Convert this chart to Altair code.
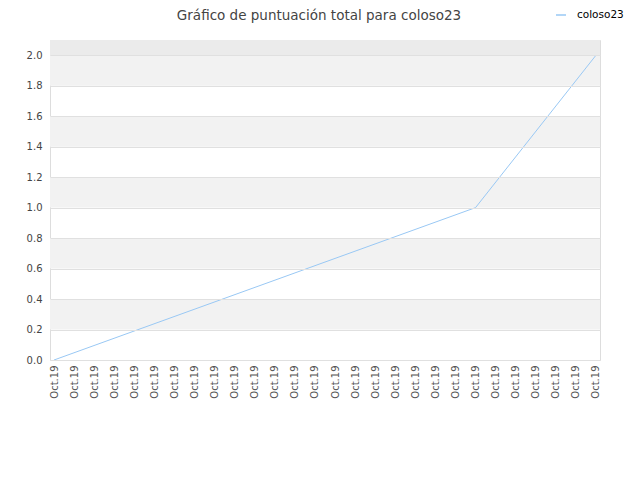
import altair as alt
import pandas as pd

# Data
x_index = [0, 21, 27]
scores = [0.0, 1.0, 2.0]
series_name = "coloso23"
x_tick_positions = list(range(28))
x_tick_label = "Oct.19"
y_ticks = [0.0, 0.2, 0.4, 0.6, 0.8, 1.0, 1.2, 1.4, 1.6, 1.8, 2.0]
band_start = [0.2, 0.6, 1.0, 1.4, 1.8]
band_end = [0.4, 0.8, 1.2, 1.6, 2.0]
top_band_start = [2.0]
top_band_end = [2.1]
title_text = ["Gráfico de puntuación total para coloso23"]

W, H = 550, 320
FONT = "DejaVu Sans"

line_df = pd.DataFrame({"i": x_index, "score": scores, "series": [series_name] * len(x_index)})
bands_df = pd.DataFrame({"y0": band_start, "y1": band_end})
top_df = pd.DataFrame({"y0": top_band_start, "y1": top_band_end})
title_df = pd.DataFrame({"t": title_text})

xscale = alt.Scale(domain=[-0.2, 27.2], nice=False, zero=False)
yscale = alt.Scale(domain=[0, 2.1], nice=False, zero=True)

yaxis = alt.Axis(
    title=None, values=y_ticks, format=".1f",
    labelFont=FONT, labelFontSize=10, labelColor="#444444",
    labelPadding=8, ticks=False, domain=False,
    grid=True, gridColor="#e0e0e0", gridWidth=1, zindex=1,
)
xaxis = alt.Axis(
    title=None, values=x_tick_positions, labelExpr=f"'{x_tick_label}'",
    labelAngle=270, labelAlign="right", labelBaseline="middle",
    labelFont=FONT, labelFontSize=10, labelColor="#555555",
    labelPadding=5, ticks=False, domain=False, grid=False,
    labelOverlap=False, labelFlush=False,
)

bands = alt.Chart(bands_df).mark_rect(color="#f2f2f2").encode(
    x=alt.value(0), x2=alt.value(W),
    y=alt.Y("y0:Q", scale=yscale, axis=yaxis), y2="y1:Q",
)
top_band = alt.Chart(top_df).mark_rect(color="#ebebeb").encode(
    x=alt.value(0), x2=alt.value(W),
    y=alt.Y("y0:Q", scale=yscale, axis=yaxis), y2="y1:Q",
)

line = alt.Chart(line_df).mark_line(strokeWidth=1).encode(
    x=alt.X("i:Q", scale=xscale, axis=xaxis),
    y=alt.Y("score:Q", scale=yscale, axis=yaxis),
    color=alt.Color(
        "series:N",
        scale=alt.Scale(range=["#99c8f4"]),
        legend=alt.Legend(
            title=None, orient="none", legendX=505, legendY=-31,
            symbolType="stroke", symbolStrokeWidth=1.5, symbolSize=100,
            labelOffset=10, labelFont=FONT, labelFontSize=10.5, labelColor="#000000",
        ),
    ),
)

title = alt.Chart(title_df).mark_text(
    font=FONT, fontSize=13.5, color="#444444", align="center", baseline="alphabetic",
).encode(
    text="t:N", x=alt.value(W / 2 - 6), y=alt.value(-20),
)

chart = alt.layer(bands, top_band, line, title).properties(
    width=W, height=H,
    autosize=alt.AutoSizeParams(type="none"),
    padding={"left": 42, "top": 32, "right": 30, "bottom": 110},
).configure_view(stroke="#d9d9d9", strokeWidth=1).configure(background="white")

chart.save("out.html", embed_options={"renderer": "svg", "actions": False})
